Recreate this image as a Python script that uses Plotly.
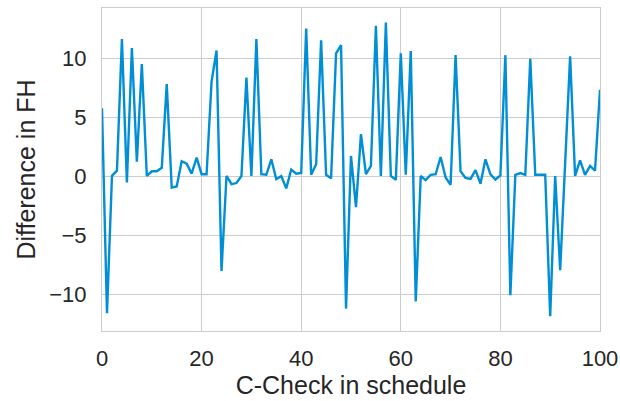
import plotly.graph_objects as go

checks = list(range(101))
diff_fh = [
    5.8, -11.6, 0.06, 0.5, 11.66, -0.5, 10.9, 1.26, 9.55, 0.06,
    0.45, 0.45, 0.75, 7.84, -0.93, -0.84, 1.3, 1.1, 0.25, 1.6,
    0.2, 0.2, 8.06, 10.7, -8.0, 0.05, -0.65, -0.55, 0.05, 8.4,
    0.05, 11.66, 0.2, 0.15, 1.46, -0.22, 0.05, -1.0, 0.6, 0.25,
    0.3, 12.56, 0.15, 1.05, 11.57, 0.15, -0.15, 10.45, 11.15, -11.2,
    1.75, -2.6, 3.6, 0.2, 0.9, 12.8, 0.05, 13.06, 0.05, -0.28,
    10.45, 0.15, 10.65, -10.6, 0.05, -0.3, 0.15, 0.2, 1.66, -0.08,
    -0.7, 10.3, 0.45, -0.12, -0.2, 0.55, -0.6, 1.46, 0.18, -0.25,
    0.1, 10.3, -10.06, 0.15, 0.3, 0.15, 10.0, 0.15, 0.15, 0.15,
    -11.85, 0.05, -7.95, 1.0, 10.2, 0.05, 1.38, 0.15, 0.9, 0.5,
    7.36,
]
x_ticks = [0, 20, 40, 60, 80, 100]
y_ticks = [-10, -5, 0, 5, 10]

fig = go.Figure()
fig.add_trace(go.Scatter(x=checks, y=diff_fh, mode="lines",
                         line=dict(color="#008fd5", width=2.4)))

font = dict(family="Liberation Sans, Arial, sans-serif", color="#262626")
fig.update_layout(
    width=620, height=401,
    margin=dict(l=102, r=20, t=8, b=70, autoexpand=False),
    paper_bgcolor="white", plot_bgcolor="white",
    showlegend=False,
    font=font,
)
axis_common = dict(showgrid=True, gridcolor="#cccccc", gridwidth=1,
                   showline=True, linecolor="#cccccc", linewidth=1, mirror=True,
                   zeroline=False, ticks="", automargin=False,
                   tickfont=dict(size=22, **font))
fig.update_xaxes(range=[0, 100], tickvals=x_ticks, ticklabelstandoff=8,
                 title=dict(text="C-Check in schedule", font=dict(size=25, **font), standoff=4),
                 **axis_common)
fig.update_yaxes(range=[-13.1, 14.3], tickvals=y_ticks, ticklabelstandoff=10,
                 title=dict(text="Difference in FH", font=dict(size=25, **font), standoff=6),
                 **axis_common)

fig.write_html("out.html")
